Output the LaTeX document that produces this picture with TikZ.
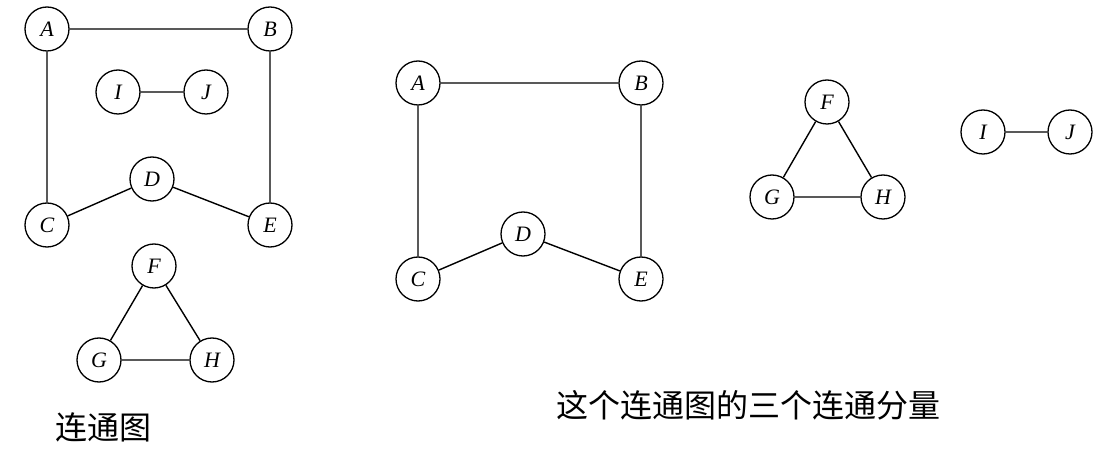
\documentclass[tikz,border=0pt]{standalone}
\usepackage{fontspec}
\newfontfamily\cjk{Noto Sans CJK SC}
\newfontfamily\vlab{Liberation Serif}
\begin{document}
\begin{tikzpicture}[x=1pt,y=-1pt,
  vtx/.style={circle,draw,line width=1.3pt,minimum size=44pt,inner sep=0pt,font=\vlab\itshape\fontsize{22}{24}\selectfont},
  edge/.style={line width=1.4pt},
  captext/.style={font=\cjk\fontsize{32}{36}\selectfont}]
\useasboundingbox (0,0) rectangle (1106,462);
% left graph
\node[vtx] (lA) at (47,29) {A};
\node[vtx] (lB) at (270,29) {B};
\node[vtx] (lI) at (118,92) {I};
\node[vtx] (lJ) at (206,92) {J};
\node[vtx] (lD) at (152,179) {D};
\node[vtx] (lC) at (47,225) {C};
\node[vtx] (lE) at (270,225) {E};
\node[vtx] (lF) at (154,266) {F};
\node[vtx] (lG) at (99,360) {G};
\node[vtx] (lH) at (212,360) {H};
\draw[edge] (lA)--(lB) (lA)--(lC) (lB)--(lE) (lC)--(lD) (lD)--(lE)
  (lI)--(lJ) (lF)--(lG) (lF)--(lH) (lG)--(lH);
\node[captext] (lcap) at (103,427) {连通图};
% right components
\node[vtx] (rA) at (418,83) {A};
\node[vtx] (rB) at (641,83) {B};
\node[vtx] (rD) at (523,234) {D};
\node[vtx] (rC) at (418,279) {C};
\node[vtx] (rE) at (641,279) {E};
\node[vtx] (rF) at (827,102) {F};
\node[vtx] (rG) at (772,197) {G};
\node[vtx] (rH) at (883,197) {H};
\node[vtx] (rI) at (983,132) {I};
\node[vtx] (rJ) at (1070,132) {J};
\draw[edge] (rA)--(rB) (rA)--(rC) (rB)--(rE) (rC)--(rD) (rD)--(rE)
  (rI)--(rJ) (rF)--(rG) (rF)--(rH) (rG)--(rH);
\node[captext] (rcap) at (748,405) {这个连通图的三个连通分量};
\end{tikzpicture}
\end{document}
